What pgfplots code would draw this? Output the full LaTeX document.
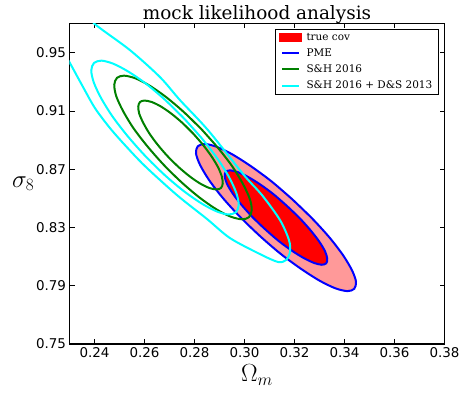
\documentclass[border=0pt]{standalone}
\usepackage{fontspec}
\setmainfont{DejaVu Serif}
\newfontfamily\ticksf{DejaVu Sans}
\usepackage{pgfplots}
\pgfplotsset{compat=1.18}
\definecolor{pmeblue}{RGB}{0,0,255}
\definecolor{shgreen}{RGB}{0,128,0}
\definecolor{dscyan}{RGB}{0,255,255}
\definecolor{covpink}{RGB}{255,153,153}
\definecolor{covred}{RGB}{255,0,0}

\begin{document}
\begin{tikzpicture}
\begin{axis}[
  name=ax,
  scale only axis,
  width=375bp, height=320.5bp,
  xmin=0.23, xmax=0.38, ymin=0.75, ymax=0.97,
  xtick={0.24,0.26,0.28,0.30,0.32,0.34,0.36,0.38},
  ytick={0.75,0.79,0.83,0.87,0.91,0.95},
  tick pos=both,
  tick align=inside,
  major tick length=5bp,
  tick style={black, line width=0.8bp},
  axis line style={black, line width=1.3bp},
  xticklabel style={/pgf/number format/.cd, fixed, fixed zerofill, precision=2, assume math mode=true},
  yticklabel style={/pgf/number format/.cd, fixed, fixed zerofill, precision=2, assume math mode=true},
  tick label style={font=\ticksf\fontsize{13.5}{16}\selectfont},
  title={mock likelihood analysis},
  title style={at={(axis description cs:0.5,1)}, anchor=base, yshift=-2bp,
    inner sep=0pt, font=\fontsize{18.5}{22}\selectfont},
  xlabel={$\Omega_m$},
  ylabel={$\sigma_8$},
  xlabel style={font=\fontsize{24}{28}\selectfont},
  ylabel style={font=\fontsize{27}{31}\selectfont, rotate=-90, xshift=5bp},
  no markers,
  legend cell align=left,
  legend style={at={(0.984,0.983)}, anchor=north east,
    font=\fontsize{10.5}{12.5}\selectfont, draw=black, row sep=3bp,
    inner xsep=4bp},
  /tikz/every odd column/.append style={column sep=3bp},
]
% true cov, 95% region
\addplot[fill=covpink, draw=none, smooth, forget plot] coordinates {
  (0.3192,0.8492) (0.3109,0.8615) (0.3026,0.8720) (0.2951,0.8802)
  (0.2888,0.8854) (0.2841,0.8873) (0.2813,0.8857) (0.2806,0.8808)
  (0.2822,0.8730) (0.2858,0.8626) (0.2912,0.8505) (0.2981,0.8375)
  (0.3060,0.8244) (0.3143,0.8121) (0.3226,0.8016) (0.3301,0.7934)
  (0.3364,0.7882) (0.3412,0.7863) (0.3439,0.7879) (0.3446,0.7928)
  (0.3430,0.8006) (0.3394,0.8110) (0.3340,0.8231) (0.3271,0.8361)
  (0.3192,0.8492)};
% true cov, 68% region
\addplot[fill=covred, draw=none, smooth, forget plot] coordinates {
  (0.3169,0.8449) (0.3116,0.8528) (0.3063,0.8595) (0.3014,0.8647)
  (0.2973,0.8680) (0.2943,0.8692) (0.2925,0.8682) (0.2921,0.8650)
  (0.2930,0.8599) (0.2953,0.8533) (0.2988,0.8455) (0.3032,0.8371)
  (0.3083,0.8287) (0.3136,0.8208) (0.3189,0.8141) (0.3238,0.8089)
  (0.3279,0.8056) (0.3309,0.8044) (0.3327,0.8054) (0.3331,0.8086)
  (0.3322,0.8137) (0.3299,0.8203) (0.3264,0.8281) (0.3220,0.8365)
  (0.3169,0.8449)};
% PME
\addplot[pmeblue, line width=2bp, smooth, forget plot] coordinates {
  (0.3192,0.8492) (0.3109,0.8615) (0.3026,0.8720) (0.2951,0.8802)
  (0.2888,0.8854) (0.2841,0.8873) (0.2813,0.8857) (0.2806,0.8808)
  (0.2822,0.8730) (0.2858,0.8626) (0.2912,0.8505) (0.2981,0.8375)
  (0.3060,0.8244) (0.3143,0.8121) (0.3226,0.8016) (0.3301,0.7934)
  (0.3364,0.7882) (0.3412,0.7863) (0.3439,0.7879) (0.3446,0.7928)
  (0.3430,0.8006) (0.3394,0.8110) (0.3340,0.8231) (0.3271,0.8361)
  (0.3192,0.8492)};
\addplot[pmeblue, line width=2bp, smooth, forget plot] coordinates {
  (0.3169,0.8449) (0.3116,0.8528) (0.3063,0.8595) (0.3014,0.8647)
  (0.2973,0.8680) (0.2943,0.8692) (0.2925,0.8682) (0.2921,0.8650)
  (0.2930,0.8599) (0.2953,0.8533) (0.2988,0.8455) (0.3032,0.8371)
  (0.3083,0.8287) (0.3136,0.8208) (0.3189,0.8141) (0.3238,0.8089)
  (0.3279,0.8056) (0.3309,0.8044) (0.3327,0.8054) (0.3331,0.8086)
  (0.3322,0.8137) (0.3299,0.8203) (0.3264,0.8281) (0.3220,0.8365)
  (0.3169,0.8449)};
% S&H 2016
\addplot[shgreen, line width=2bp, smooth, forget plot] coordinates {
  (0.2829,0.8972) (0.2758,0.9091) (0.2687,0.9194) (0.2620,0.9274)
  (0.2563,0.9324) (0.2518,0.9342) (0.2490,0.9327) (0.2479,0.9279)
  (0.2487,0.9201) (0.2514,0.9100) (0.2556,0.8981) (0.2613,0.8854)
  (0.2679,0.8726) (0.2750,0.8607) (0.2821,0.8504) (0.2888,0.8424)
  (0.2945,0.8374) (0.2990,0.8356) (0.3018,0.8371) (0.3029,0.8420)
  (0.3021,0.8497) (0.2994,0.8598) (0.2952,0.8717) (0.2895,0.8844)
  (0.2829,0.8972)};
\addplot[shgreen, line width=2bp, smooth, forget plot] coordinates {
  (0.2794,0.8946) (0.2750,0.9020) (0.2706,0.9083) (0.2665,0.9131)
  (0.2629,0.9161) (0.2600,0.9171) (0.2582,0.9161) (0.2575,0.9130)
  (0.2579,0.9081) (0.2595,0.9018) (0.2620,0.8944) (0.2654,0.8865)
  (0.2694,0.8786) (0.2738,0.8712) (0.2782,0.8649) (0.2823,0.8601)
  (0.2859,0.8571) (0.2888,0.8561) (0.2906,0.8571) (0.2913,0.8602)
  (0.2909,0.8651) (0.2894,0.8714) (0.2868,0.8788) (0.2834,0.8867)
  (0.2794,0.8946)};
% S&H 2016 + D&S 2013
\addplot[dscyan, line width=2bp, smooth, forget plot] coordinates {
  (0.2760,0.9045) (0.2684,0.9173) (0.2608,0.9284) (0.2536,0.9369)
  (0.2475,0.9424) (0.2428,0.9445) (0.2398,0.9429) (0.2387,0.9378)
  (0.2397,0.9296) (0.2426,0.9189) (0.2472,0.9062) (0.2533,0.8926)
  (0.2604,0.8789) (0.2680,0.8661) (0.2756,0.8551) (0.2828,0.8465)
  (0.2889,0.8410) (0.2936,0.8389) (0.2966,0.8405) (0.2977,0.8456)
  (0.2967,0.8538) (0.2938,0.8646) (0.2892,0.8772) (0.2831,0.8908)
  (0.2760,0.9045)};
\addplot[dscyan, line width=2bp, smooth, forget plot] coordinates {
  (0.2374,0.9764) (0.2402,0.9695) (0.2542,0.9517) (0.2662,0.9332)
  (0.2742,0.9174) (0.2854,0.8968) (0.2998,0.8659) (0.3070,0.8522)
  (0.3142,0.8351) (0.3178,0.8213) (0.3182,0.8131) (0.3166,0.8076)
  (0.3134,0.8063) (0.3062,0.8117) (0.2942,0.8227) (0.2850,0.8358)
  (0.2730,0.8522) (0.2602,0.8721) (0.2522,0.8865) (0.2462,0.8982)
  (0.2402,0.9119) (0.2350,0.9277) (0.2302,0.9428) (0.2270,0.9524)};

\addlegendimage{legend image code/.code={\fill[covred] (-3bp,-4bp) rectangle (19bp,4bp);}}
\addlegendentry{true cov}
\addlegendimage{pmeblue, line width=2bp}
\addlegendentry{PME}
\addlegendimage{shgreen, line width=2bp}
\addlegendentry{S\&H 2016}
\addlegendimage{dscyan, line width=2bp}
\addlegendentry{S\&H 2016 + D\&S 2013}
\end{axis}
\path (ax.south west) ++(-69.5bp,-53bp) rectangle ++(463bp,397bp);
\end{tikzpicture}
\end{document}
